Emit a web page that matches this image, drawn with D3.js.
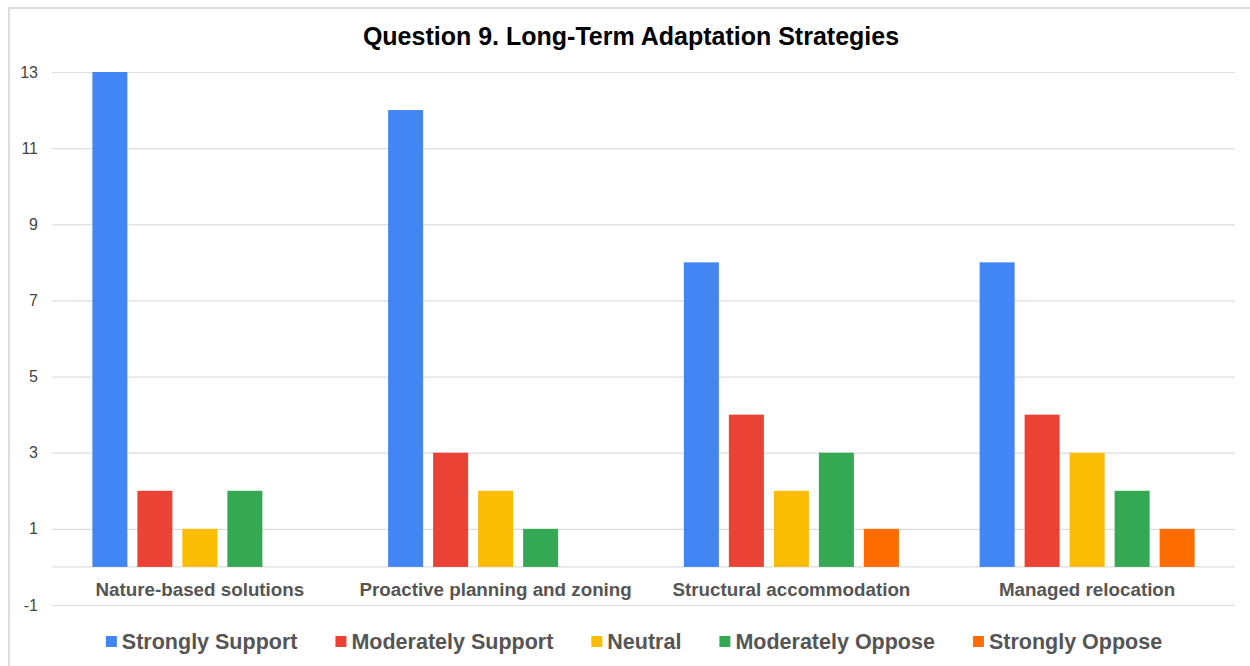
<!DOCTYPE html>
<html>
<head>
<meta charset="utf-8">
<script src="https://cdn.jsdelivr.net/npm/d3@7"></script>
<style>
  body { margin: 0; background: #fff; }
  svg { display: block; }
  text { font-family: "Liberation Sans", Arial, Helvetica, sans-serif; }
</style>
</head>
<body>
<div id="screen"></div>
<script>
// chart data
const categories = ["Nature-based solutions", "Proactive planning and zoning", "Structural accommodation", "Managed relocation"];
const seriesNames = ["Strongly Support", "Moderately Support", "Neutral", "Moderately Oppose", "Strongly Oppose"];
const seriesColors = ["#4285f4", "#ea4335", "#fbbc04", "#34a853", "#ff6d01"];
const stronglySupport = [13, 12, 8, 8];
const moderatelySupport = [2, 3, 4, 4];
const neutral = [1, 2, 2, 3];
const moderatelyOppose = [2, 1, 3, 2];
const stronglyOppose = [0, 0, 1, 1];
const yTicks = [-1, 1, 3, 5, 7, 9, 11, 13];

const allSeries = [stronglySupport, moderatelySupport, neutral, moderatelyOppose, stronglyOppose];

const width = 1250, height = 666;
const plot = {left: 52, right: 1235, top: 72, bottom: 605};

const svg = d3.select("#screen").append("svg")
    .attr("width", width)
    .attr("height", height);

// outer frame (only left and top edges show)
svg.append("rect")
    .attr("x", 9).attr("y", 8)
    .attr("width", 1260).attr("height", 680)
    .attr("fill", "none")
    .attr("stroke", "#dcdcdc")
    .attr("stroke-width", 2);

const x0 = d3.scaleBand().domain(categories).range([plot.left, plot.right]);
const groupW = 225;
const x1 = d3.scaleBand().domain(seriesNames)
    .range([0, groupW])
    .paddingInner(0.222)
    .paddingOuter(0.111);
const y = d3.scaleLinear().domain([-1, 13]).range([plot.bottom, plot.top]);

// gridlines + tick labels
const yAxis = d3.axisLeft(y).tickValues(yTicks)
    .tickFormat(d => String(d))
    .tickSize(-(plot.right - plot.left))
    .tickPadding(14);
const gy = svg.append("g")
    .attr("transform", "translate(" + plot.left + ",0)")
    .call(yAxis);
gy.select(".domain").remove();
gy.selectAll(".tick line").attr("stroke", "#dedede").attr("stroke-width", 1.2);
gy.selectAll(".tick text")
    .attr("fill", "#444")
    .style("font-size", "16px")
    .style("font-family", "Liberation Sans, Arial, sans-serif");

// zero baseline
svg.append("line")
    .attr("x1", plot.left).attr("x2", plot.right)
    .attr("y1", y(0)).attr("y2", y(0))
    .attr("stroke", "#dedede").attr("stroke-width", 1.2);

// bars
const groups = svg.append("g").selectAll("g")
    .data(categories)
    .join("g")
    .attr("transform", d => "translate(" + (x0(d) + (x0.bandwidth() - groupW) / 2) + ",0)");

groups.selectAll("rect")
    .data((c, ci) => seriesNames.map((s, si) => ({s: s, si: si, v: allSeries[si][ci]})))
    .join("rect")
    .filter(d => d.v > 0)
    .attr("x", d => x1(d.s))
    .attr("width", x1.bandwidth())
    .attr("y", d => y(d.v))
    .attr("height", d => y(0) - y(d.v))
    .attr("fill", d => seriesColors[d.si]);

// category labels
svg.append("g").selectAll("text")
    .data(categories)
    .join("text")
    .attr("x", d => x0(d) + x0.bandwidth() / 2)
    .attr("y", 596)
    .attr("text-anchor", "middle")
    .attr("fill", "#555")
    .style("font-size", "18.8px")
    .style("font-weight", "bold")
    .text(d => d);

// title
svg.append("text")
    .attr("x", 631)
    .attr("y", 45)
    .attr("text-anchor", "middle")
    .attr("fill", "#000")
    .style("font-size", "25px")
    .style("font-weight", "bold")
    .text("Question 9. Long-Term Adaptation Strategies");

// legend, laid out by measured text widths then centred
const legend = svg.append("g");
const items = legend.selectAll("g")
    .data(seriesNames)
    .join("g");
items.append("rect")
    .attr("width", 11).attr("height", 11)
    .attr("y", -13)
    .attr("fill", (d, i) => seriesColors[i]);
items.append("text")
    .attr("x", 16)
    .attr("fill", "#555")
    .style("font-size", "21.5px")
    .style("font-weight", "bold")
    .text(d => d);

var cx = 0;
items.each(function() {
    var item = d3.select(this);
    item.attr("transform", "translate(" + cx + ",0)");
    cx += 16 + item.select("text").node().getComputedTextLength() + 38;
});
const legendW = cx - 38;
legend.attr("transform", "translate(" + (634 - legendW / 2) + ",649)");
</script>
</body>
</html>
